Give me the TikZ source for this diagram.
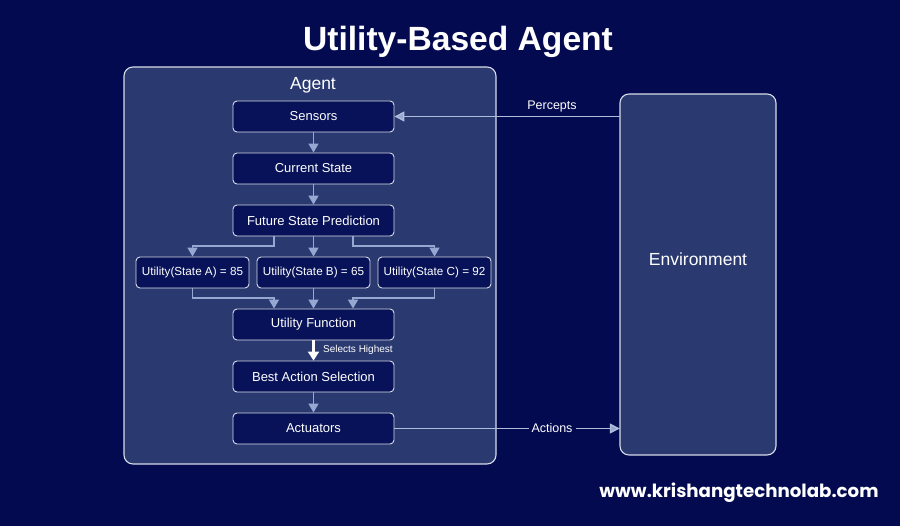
\documentclass[tikz,border=0pt]{standalone}
\usepackage{fontspec}
\setmainfont{Liberation Sans}
\newfontfamily\webfont{Poppins}
\usetikzlibrary{arrows.meta,positioning}
\definecolor{bgnavy}{RGB}{3,10,80}
\definecolor{panel}{RGB}{42,57,112}
\definecolor{innerbox}{RGB}{8,18,88}
\definecolor{edgegray}{RGB}{215,220,232}
\definecolor{arrowblue}{RGB}{150,168,210}
\definecolor{linkgray}{RGB}{175,188,220}
\tikzset{
  panelbox/.style={draw=edgegray,line width=1.1pt,fill=panel,rounded corners=9pt},
  stepbox/.style={draw=edgegray,line width=0.9pt,fill=innerbox,rounded corners=4pt,
    minimum width=161pt,minimum height=31pt,inner sep=0pt,text=white,font=\fontsize{13}{15}\selectfont},
  utilbox/.style={stepbox,minimum width=113pt,font=\fontsize{11.7}{14}\selectfont},
  flow/.style={draw=arrowblue,line width=1.7pt,-{Triangle[width=10pt,length=9pt]}},
  bigflow/.style={draw=white,line width=2.6pt,-{Triangle[width=11pt,length=9pt]}},
  link/.style={draw=linkgray,line width=1.4pt,-{Triangle[width=10pt,length=10pt,fill=arrowblue]}},
  lbl/.style={text=white,inner sep=1pt},
}
\begin{document}
\begin{tikzpicture}[x=1pt,y=-1pt]
\fill[bgnavy] (0,0) rectangle (900,526);
\useasboundingbox (0,0) rectangle (900,526);

\node[text=white,font=\bfseries\fontsize{33.6}{38}\selectfont] (title) at (458,42) {Utility-Based Agent};

\draw[panelbox] (124,67) rectangle (496,464);
\node[text=white,font=\fontsize{17.5}{20}\selectfont] (agentlbl) at (313,85) {Agent};
\draw[panelbox] (620,94) rectangle (776,455);
\node (envbox) at (698,274.5) [minimum width=156pt,minimum height=361pt,inner sep=0pt] {};
\node[text=white,font=\fontsize{17.5}{20}\selectfont] (envlbl) at (698,259) {Environment};

\node[stepbox] (sens) at (313.5,116.5) {Sensors};
\node[stepbox] (cur) at (313.5,168.5) {Current State};
\node[stepbox] (fut) at (313.5,220.5) {Future State Prediction};
\node[utilbox] (ua) at (192.5,272.5) {Utility(State A) = 85};
\node[utilbox] (ub) at (313.5,272.5) {Utility(State B) = 65};
\node[utilbox] (uc) at (434.5,272.5) {Utility(State C) = 92};
\node[stepbox] (uf) at (313.5,324.5) {Utility Function};
\node[stepbox] (best) at (313.5,376.5) {Best Action Selection};
\node[stepbox] (act) at (313.5,428.5) {Actuators};

\draw[flow] (sens) -- (cur);
\draw[flow] (cur) -- (fut);
\draw[flow] (fut.south -| 274,0) |- (192.5,246) -- (ua.north);
\draw[flow] (fut) -- (ub);
\draw[flow] (fut.south -| 353,0) |- (434.5,246) -- (uc.north);
\draw[flow] (ua.south) |- (274,298) -- (uf.north -| 274,0);
\draw[flow] (ub) -- (uf);
\draw[flow] (uc.south) |- (353,298) -- (uf.north -| 353,0);
\draw[bigflow] (uf) -- (best);
\node[lbl,anchor=west,font=\fontsize{10}{12}\selectfont] (selh) at (322,350) {Selects Highest};
\draw[flow] (best) -- (act);

\draw[link] (envbox.west |- sens.east) -- (sens.east);
\node[lbl,font=\fontsize{12.5}{15}\selectfont] (perc) at (552,107) {Percepts};
\draw[link] (act.east) -- (envbox.west |- act.east);
\node[lbl,fill=bgnavy,inner xsep=3pt,font=\fontsize{12.5}{15}\selectfont] (actlbl) at (552,428.5) {Actions};

\node[text=white,font=\webfont\bfseries\fontsize{18.2}{21}\selectfont] (web) at (739,493) {www.krishangtechnolab.com};
\end{tikzpicture}
\end{document}
